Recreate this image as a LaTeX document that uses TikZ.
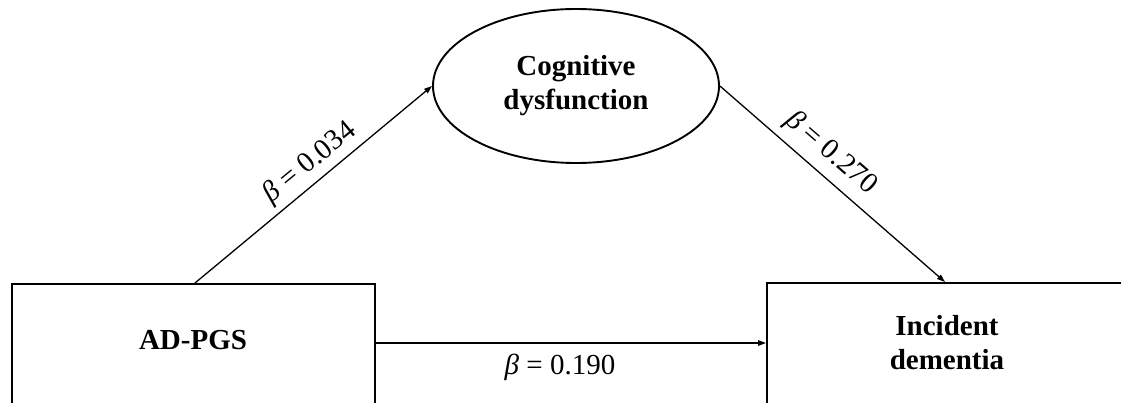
\documentclass[tikz,border=0pt]{standalone}
\usepackage{fontspec}
\setmainfont{Liberation Serif}
\usetikzlibrary{shapes.geometric,arrows.meta}
\begin{document}
\begin{tikzpicture}[x=1pt,y=-1pt,
  font=\fontsize{29}{34}\selectfont,
  box/.style={draw, line width=2.2pt, minimum width=363pt, minimum height=160pt, anchor=north west, inner sep=0pt},
  oval/.style={draw, ellipse, line width=1.9pt, minimum width=286pt, minimum height=154pt, inner sep=0pt, align=center, font=\fontsize{29}{34}\selectfont\bfseries},
  title/.style={font=\fontsize{29}{34}\selectfont\bfseries, align=center, inner sep=0pt},
  coef/.style={inner sep=0pt},
  arr/.style={-{Triangle[length=8pt,width=5.5pt]}, line width=1.3pt}]
\useasboundingbox (0,0) rectangle (1121,403);
\clip (0,0) rectangle (1121,403);
\node[box] (ad) at (11,283) {};
\node[box, minimum width=380pt] (id) at (766,282) {};
\node[oval] (cog) at (576,86) {Cognitive\\dysfunction};
\node[title] (adt) at (193,340) {AD-PGS};
\node[title] (idt) at (947,343) {Incident\\dementia};
\coordinate (hy) at (0,343);
\draw[arr] (ad.north east |- hy) -- (id.north west |- hy);
\draw[arr] ([xshift=184pt]ad.north west) -- (cog.west);
\draw[arr] (cog.east) -- ([xshift=179pt]id.north west);
\node[coef, rotate=39.4] (b1) at (310,163) {{\itshape β} = 0.034};
\node[coef, rotate=-40.9] (b2) at (831,153) {{\itshape β} = 0.270};
\node[coef] (b3) at (560,367) {{\itshape β} = 0.190};
\end{tikzpicture}
\end{document}
